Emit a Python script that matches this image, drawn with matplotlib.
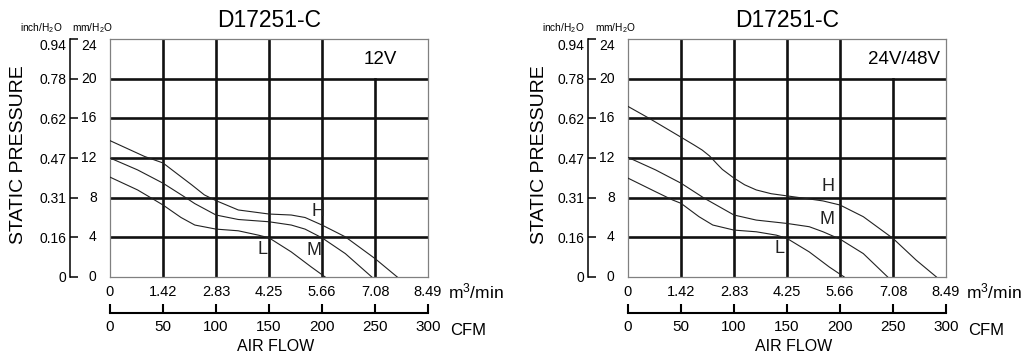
import matplotlib
matplotlib.use("Agg")
import matplotlib.pyplot as plt

plt.rcParams['font.family'] = ['Liberation Sans', 'DejaVu Sans']
plt.rcParams['mathtext.fontset'] = 'custom'
plt.rcParams['mathtext.rm'] = 'Liberation Sans'
plt.rcParams['mathtext.it'] = 'Liberation Sans'

# ---------------- data ----------------
title = "D17251-C"
cfm_ticks = [0, 50, 100, 150, 200, 250, 300]
m3_labels = ["0", "1.42", "2.83", "4.25", "5.66", "7.08", "8.49"]
mm_ticks = [0, 4, 8, 12, 16, 20, 24]
mm_labels = ["0", "4", "8", "12", "16", "20", "24"]
inch_labels = ["0", "0.16", "0.31", "0.47", "0.62", "0.78", "0.94"]

# 12V curves (CFM, mmH2O)
v12_H_x = [0, 32.5, 50, 61, 77, 89, 100, 121, 150, 171, 184, 200, 222, 250, 271]
v12_H_y = [13.75, 12.16, 11.5, 10.6, 9.3, 8.28, 7.7, 6.76, 6.35, 6.25, 6.0, 5.24, 4.05, 1.86, 0]
v12_M_x = [0, 26, 50, 70, 80, 100, 121, 150, 171, 184, 200, 222, 247]
v12_M_y = [12.0, 10.8, 9.46, 8.1, 7.4, 6.25, 5.8, 5.57, 5.24, 4.83, 3.95, 2.36, 0]
v12_L_x = [0, 26, 42, 50, 67, 80, 100, 121, 140, 150, 171, 190, 203]
v12_L_y = [10.07, 8.78, 7.77, 7.26, 6.0, 5.24, 4.83, 4.66, 4.22, 3.95, 2.53, 1.0, 0]

# 24V/48V curves (CFM, mmH2O)
v24_H_x = [0, 20, 50, 62.5, 70, 77, 84, 89, 100, 110, 121, 135, 150, 171, 184, 200, 222, 250, 272, 291]
v24_H_y = [17.2, 16.0, 14.1, 13.3, 12.8, 12.2, 11.4, 10.85, 9.97, 9.3, 8.78, 8.4, 8.18, 7.87, 7.67, 7.26, 6.08, 3.89, 1.69, 0]
v24_M_x = [0, 26, 50, 72, 100, 121, 150, 171, 184, 200, 222, 245]
v24_M_y = [12.06, 10.8, 9.46, 7.94, 6.25, 5.74, 5.4, 5.07, 4.56, 3.82, 2.36, 0]
v24_L_x = [0, 26, 42, 50, 67, 80, 100, 121, 140, 150, 171, 190, 204]
v24_L_y = [9.97, 8.6, 7.77, 7.43, 6.08, 5.24, 4.73, 4.56, 4.22, 3.89, 2.53, 1.0, 0]

panels = [
    dict(left=110, label="12V", label_x=0.849, label_ha="center",
         curves=[(v12_H_x, v12_H_y), (v12_M_x, v12_M_y), (v12_L_x, v12_L_y)],
         marks=[("H", 196, 6.65), ("M", 192.5, 2.7), ("L", 143.4, 2.8)],
         inch_x=-0.283, mm_x=-0.119, ylab_x=-0.289),
    dict(left=628, label="24V/48V", label_x=0.981, label_ha="right",
         curves=[(v24_H_x, v24_H_y), (v24_M_x, v24_M_y), (v24_L_x, v24_L_y)],
         marks=[("H", 189, 9.1), ("M", 188, 5.75), ("L", 143, 2.9)],
         inch_x=-0.27, mm_x=-0.104, ylab_x=-0.277),
]

W, H = 1026, 354
fig = plt.figure(figsize=(W / 100, H / 100), dpi=100)
fig.patch.set_facecolor('white')

pw, ph = 318, 238
pbottom = 277
border = '#808080'

for p in panels:
    ax = fig.add_axes([p['left'] / W, (H - pbottom) / H, pw / W, ph / H])
    ax.set_xlim(0, 300)
    ax.set_ylim(0, 24)

    # grid
    for yv in [4, 8, 12, 16, 20]:
        ax.axhline(yv, color='#111111', lw=1.9, zorder=2)
    for xv in [50, 100, 150, 200]:
        ax.axvline(xv, color='#111111', lw=1.9, zorder=2)
    ax.plot([250, 250], [0, 20], color='#111111', lw=1.9, zorder=2)

    # curves
    for cx, cy in p['curves']:
        ax.plot(cx, cy, color='#222222', lw=0.8, zorder=3)
    for txt, tx, ty in p['marks']:
        ax.text(tx, ty, txt, fontsize=13, ha='center', va='center',
                color='#222222', zorder=4)

    # borders
    for s in ['top', 'right', 'bottom']:
        ax.spines[s].set_color(border)
        ax.spines[s].set_linewidth(0.9)
    ax.axvline(0, color=border, lw=0.9, clip_on=False)

    # y axis: inch labels (left of spine), mm labels (right of spine)
    ax.spines['left'].set_position(('outward', 28.8))
    ax.spines['left'].set_linewidth(1.1)
    ax.spines['left'].set_color('black')
    ax.set_yticks(mm_ticks, labels=inch_labels)
    ax.tick_params(axis='y', direction='in', length=5.8, width=1.1,
                   pad=2.5, labelsize=10, colors='black')
    ax.get_yticklabels()[-1].set_va('top')
    ytr = ax.get_yaxis_transform()
    for v, lab in zip(mm_ticks, mm_labels):
        ax.text(-0.042, v, lab, transform=ytr, ha='right',
                va='top' if v == mm_ticks[-1] else 'center', fontsize=10)

    # x axis: m3/min labels only
    ax.set_xticks(cfm_ticks, labels=m3_labels)
    ax.tick_params(axis='x', length=0, pad=5.5, labelsize=10.5)
    ax.text(1.063, -0.059, "m$^3$/min", transform=ax.transAxes,
            ha='left', va='center', fontsize=12.5)

    # CFM axis
    sec = ax.secondary_xaxis(-0.151)
    sec.set_xticks(cfm_ticks, labels=[str(c) for c in cfm_ticks])
    sec.spines['bottom'].set_linewidth(1.5)
    sec.tick_params(axis='x', direction='in', length=6.5, width=1.5,
                    pad=5, labelsize=11)
    ax.text(1.069, -0.223, "CFM", transform=ax.transAxes,
            ha='left', va='center', fontsize=12)
    ax.text(0.522, -0.294, "AIR FLOW", transform=ax.transAxes,
            ha='center', va='center', fontsize=11.5)

    # titles and labels
    ax.text(0.5, 1.076, title, transform=ax.transAxes, ha='center',
            va='center', fontsize=16.5)
    ax.text(p['label_x'], 0.912, p['label'], transform=ax.transAxes,
            ha=p['label_ha'], va='center', fontsize=13.5)
    ax.text(p['inch_x'], 1.045, "inch/H$_2$O", transform=ax.transAxes,
            ha='left', va='center', fontsize=7.3)
    ax.text(p['mm_x'], 1.045, "mm/H$_2$O", transform=ax.transAxes,
            ha='left', va='center', fontsize=7.3)
    ax.text(p['ylab_x'], 0.513, "STATIC PRESSURE", transform=ax.transAxes,
            ha='center', va='center', rotation=90, fontsize=14)

fig.savefig("out.png", dpi=100, facecolor='white')
